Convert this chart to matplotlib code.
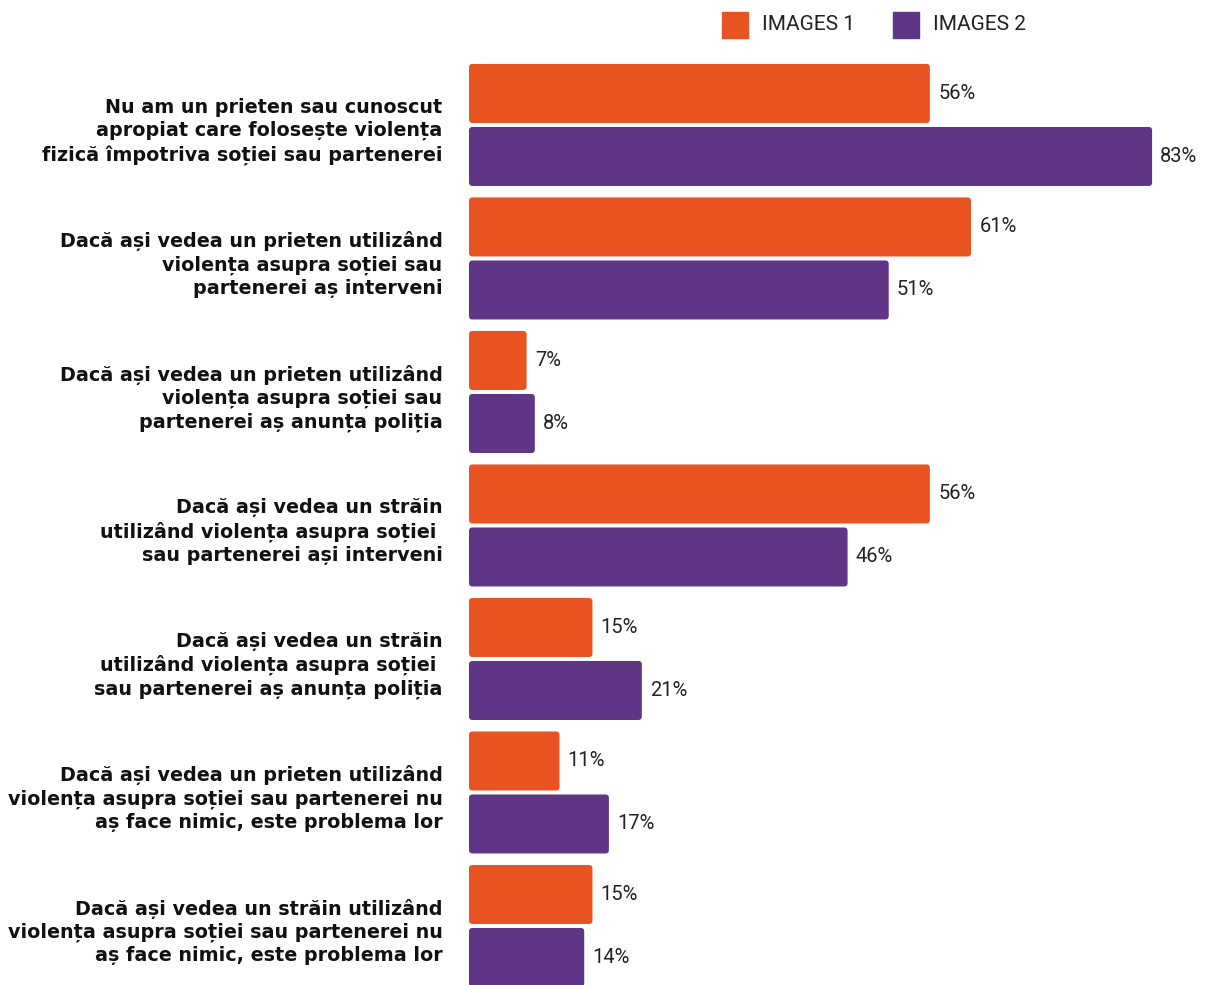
import matplotlib
matplotlib.use("Agg")
from matplotlib import pyplot as plt
from matplotlib.patches import Rectangle, FancyBboxPatch
import numpy as np

categories = [
    "Nu am un prieten sau cunoscut\napropiat care folosește violența\nfizică împotriva soției sau partenerei",
    "Dacă ași vedea un prieten utilizând\nviolența asupra soției sau\npartenerei aș interveni",
    "Dacă ași vedea un prieten utilizând\nviolența asupra soției sau\npartenerei aș anunța poliția",
    "Dacă ași vedea un străin\nutilizând violența asupra soției \nsau partenerei ași interveni",
    "Dacă ași vedea un străin\nutilizând violența asupra soției \nsau partenerei aș anunța poliția",
    "Dacă ași vedea un prieten utilizând\nviolența asupra soției sau partenerei nu\naș face nimic, este problema lor",
    "Dacă ași vedea un străin utilizând\nviolența asupra soției sau partenerei nu\naș face nimic, este problema lor",
]
images1 = [56, 61, 7, 56, 15, 11, 15]
images2 = [83, 51, 8, 46, 21, 17, 14]
series_names = ["IMAGES 1", "IMAGES 2"]

orange = "#E95322"
purple = "#5F3586"

W, H = 1207, 985
px_per_pct = 8.23
px_per_row = 133.5
fig = plt.figure(figsize=(W / 100, H / 100), dpi=100)
ax = fig.add_axes([469 / W, 0, (W - 469) / W, 1])

y = np.arange(len(categories))
h = 0.442
off = 0.236
bars1 = ax.barh(y - off, images1, height=h, color=orange)
bars2 = ax.barh(y + off, images2, height=h, color=purple)

# swap plain rectangles for slightly rounded ones
r_px = 3.5
for b in list(bars1) + list(bars2):
    b.set_visible(False)
    ax.add_patch(FancyBboxPatch(
        (b.get_x(), b.get_y()), b.get_width(), b.get_height(),
        boxstyle=f"round,pad=0,rounding_size={r_px / px_per_pct}",
        mutation_aspect=px_per_pct / px_per_row,
        facecolor=b.get_facecolor(), edgecolor="none"))

ax.set_xlim(0, (W - 469) / px_per_pct)
ax.set_ylim(6.442, -0.936)

for yi, v1, v2 in zip(y, images1, images2):
    ax.text(v1 + 1.0, yi - off, f"{v1}%", va="center", ha="left",
            fontsize=14.5, color="#222222", family="Roboto")
    ax.text(v2 + 1.0, yi + off, f"{v2}%", va="center", ha="left",
            fontsize=14.5, color="#222222", family="Roboto")

# labels sit a touch below the group centre in the original
ax.set_yticks(y + 2 / px_per_row)
ax.set_yticklabels(categories, fontsize=13.8, fontweight="bold",
                   family="DejaVu Sans", color="#111111", linespacing=1.27)
ax.tick_params(axis="y", length=0, pad=19)
ax.set_xticks([])
for s in ax.spines.values():
    s.set_visible(False)

# legend at the top
for name, col, x0 in zip(series_names, [orange, purple], [722, 893]):
    fig.patches.append(Rectangle((x0 / W, 1 - 38 / H), 26 / W, 26 / H,
                                 transform=fig.transFigure, color=col))
    fig.text((x0 + 40) / W, 1 - 25 / H, name, va="center", ha="left",
             fontsize=15, color="#222222", family="Roboto")

fig.savefig("out.png", dpi=100, facecolor="white")
